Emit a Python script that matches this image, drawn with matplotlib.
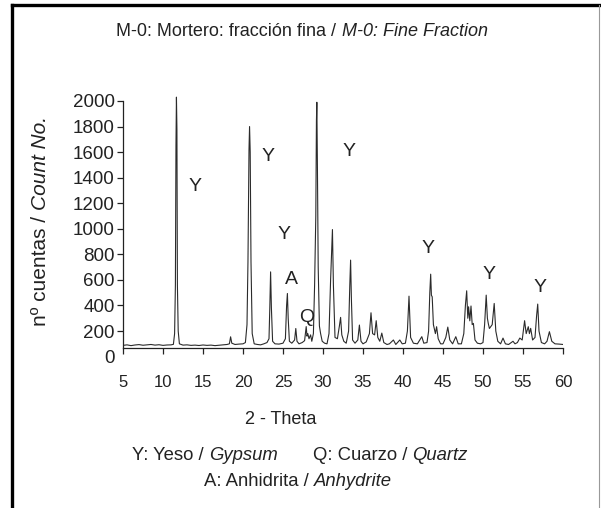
import numpy as np
import matplotlib
matplotlib.use('Agg')
import matplotlib.pyplot as plt
from matplotlib.lines import Line2D

plt.rcParams['font.family'] = ['Liberation Sans', 'DejaVu Sans']

# XRD trace (2-theta, counts)
two_theta = [5.0, 5.5, 6.0, 6.5, 7.0, 7.5, 8.0, 8.5, 9.0, 9.5, 10.0, 10.5, 11.0, 11.3,
             11.45, 11.55, 11.62, 11.68, 11.74, 11.8, 11.9, 12.05, 12.5, 13.0, 13.5,
             14.0, 14.5, 15.0, 15.5, 16.0, 16.5, 17.0, 17.5, 18.0, 18.3, 18.45, 18.6,
             19.0, 19.5, 20.0, 20.3, 20.5, 20.62, 20.75, 20.82, 20.9, 21.0, 21.15,
             21.4, 21.8, 22.2, 22.6, 23.0, 23.25, 23.35, 23.45, 23.55, 23.7, 24.0,
             24.5, 25.0, 25.3, 25.45, 25.55, 25.65, 25.8, 26.1, 26.45, 26.6, 26.75,
             27.0, 27.4, 27.7, 27.9, 28.0, 28.1, 28.25, 28.45, 28.6, 28.8, 28.95,
             29.1, 29.18, 29.23, 29.3, 29.4, 29.55, 29.7, 29.9, 30.2, 30.5, 30.75,
             30.95, 31.1, 31.18, 31.3, 31.5, 31.8, 32.05, 32.2, 32.35, 32.6, 32.9,
             33.2, 33.35, 33.45, 33.55, 33.7, 34.0, 34.35, 34.55, 34.75, 35.0, 35.4,
             35.8, 36.0, 36.2, 36.45, 36.65, 36.85, 37.1, 37.35, 37.6, 38.0, 38.3,
             38.8, 39.1, 39.6, 39.9, 40.3, 40.55, 40.75, 40.95, 41.3, 41.8, 42.2,
             42.35, 42.6, 43.0, 43.2, 43.35, 43.46, 43.55, 43.65, 43.8, 44.05, 44.2,
             44.4, 44.7, 45.0, 45.35, 45.6, 45.85, 46.2, 46.6, 46.9, 47.3, 47.6,
             47.8, 47.96, 48.1, 48.2, 48.35, 48.5, 48.65, 48.8, 49.0, 49.3, 49.7,
             50.0, 50.2, 50.4, 50.55, 50.66, 50.8, 50.96, 51.15, 51.4, 51.6, 51.85,
             52.2, 52.5, 52.8, 53.2, 53.75, 54.0, 54.3, 54.6, 54.9, 55.2, 55.4,
             55.66, 55.8, 55.96, 56.2, 56.5, 56.7, 56.84, 57.0, 57.3, 57.7, 58.0,
             58.3, 58.6, 59.0, 59.5, 60.0]
counts = [88, 92, 86, 91, 94, 89, 92, 95, 90, 93, 88, 91, 92, 96,
          180, 560, 1650, 2030, 1780, 560, 200, 100, 90, 92, 88,
          90, 87, 91, 88, 90, 86, 89, 92, 95, 100, 155, 105,
          95, 98, 100, 110, 250, 740, 1620, 1800, 1600, 740, 180,
          100, 95, 92, 100, 110, 140, 380, 663, 380, 120, 100,
          98, 105, 140, 400, 494, 300, 120, 105, 130, 220, 120,
          100, 110, 125, 235, 160, 180, 140, 170, 120, 180, 560,
          1100, 1850, 1990, 1500, 700, 240, 180, 120, 105, 100, 180,
          600, 850, 994, 560, 150, 140, 240, 307, 170, 120, 105,
          200, 560, 755, 450, 130, 105, 130, 247, 120, 100, 115,
          180, 343, 180, 170, 281, 150, 120, 184, 110, 95, 100,
          130, 95, 130, 100, 105, 200, 473, 150, 105, 100, 140,
          156, 105, 110, 200, 500, 645, 480, 468, 250, 180, 234,
          140, 100, 100, 150, 231, 130, 100, 156, 100, 100, 180,
          400, 515, 300, 390, 280, 396, 250, 260, 130, 105, 100,
          110, 250, 481, 300, 260, 220, 234, 250, 416, 200, 120,
          100, 145, 100, 95, 120, 100, 110, 145, 130, 281, 180,
          234, 180, 221, 130, 150, 320, 411, 200, 110, 100, 120,
          195, 120, 100, 98, 95]

# phase labels
label_text = ['Y', 'Y', 'Y', 'A', 'Q', 'Y', 'Y', 'Y', 'Y']
label_x = [14.0, 23.1, 25.1, 26.0, 28.0, 33.25, 43.1, 50.75, 57.1]
label_y = [1333, 1566, 957, 606, 309, 1606, 848, 645, 544]

x_ticks = [5, 10, 15, 20, 25, 30, 35, 40, 45, 50, 55, 60]
y_ticks = [0, 200, 400, 600, 800, 1000, 1200, 1400, 1600, 1800, 2000]

W, H = 601, 508
fig = plt.figure(figsize=(W / 100, H / 100), dpi=100)
ax = fig.add_axes([123 / W, 0.298, 440 / W, 0.5158])

ax.plot(two_theta, counts, color='#2b2b2b', lw=0.8)
for t, x, y in zip(label_text, label_x, label_y):
    ax.text(x, y, t, fontsize=14, ha='center', va='center', color='#222222')

ax.set_xlim(5, 60)
ax.set_ylim(0, 2050)
ax.set_xticks(x_ticks)
ax.set_yticks(y_ticks)
ax.tick_params(axis='x', labelsize=12, length=4, width=0.9, pad=15, colors='#222222')
ax.tick_params(axis='y', labelsize=13.5, length=4, width=0.9, pad=2, colors='#222222')
ax.yaxis.get_major_ticks()[0].tick1line.set_visible(False)
for s in ['top', 'right']:
    ax.spines[s].set_visible(False)
ax.spines['bottom'].set_position(('data', 65))
ax.spines['left'].set_bounds(65, 2000)
for s in ['bottom', 'left']:
    ax.spines[s].set_linewidth(0.9)
    ax.spines[s].set_color('#222222')

renderer = fig.canvas.get_renderer()


def text_width(s, size, style):
    t = fig.text(0, 0, s, fontsize=size, style=style)
    w = t.get_window_extent(renderer).width
    t.remove()
    return w


def rich_text(x_px, y_px, parts, size, rotation=0, ha='center'):
    gap = text_width('x x', size, 'normal') - text_width('xx', size, 'normal')
    widths = [text_width(s, size, st) for s, st in parts]
    total = sum(widths) + gap * (len(parts) - 1)
    pos = x_px - total / 2 if ha == 'center' else x_px
    if rotation:
        pos = y_px - total / 2
    for (s, st), w in zip(parts, widths):
        if rotation:
            fig.text(x_px / W, pos / H, s, fontsize=size, style=st, rotation=90,
                     ha='center', va='bottom', color='#222222')
        else:
            fig.text(pos / W, 1 - y_px / H, s, fontsize=size, style=st,
                     ha='left', va='center', color='#222222')
        pos += w + gap


rich_text(302, 32, [('M-0: Mortero: fracción fina /', 'normal'),
                    ('M-0: Fine Fraction', 'italic')], 13)
rich_text(41, H - 221, [('nº cuentas /', 'normal'), ('Count No.', 'italic')], 15,
          rotation=90)
fig.text(281 / W, 1 - 419 / H, '2 - Theta', fontsize=13, ha='center', va='center',
         color='#222222')
rich_text(132, 455, [('Y: Yeso /', 'normal'), ('Gypsum', 'italic')], 13.3, ha='left')
rich_text(313, 455, [('Q: Cuarzo /', 'normal'), ('Quartz', 'italic')], 13.3, ha='left')
rich_text(298, 482, [('A: Anhidrita /', 'normal'), ('Anhydrite', 'italic')], 13.3)

# frame around the figure
fig.add_artist(Line2D([12 / W, 12 / W], [0, 1 - 5 / H], color='black', lw=2.4,
                      solid_capstyle='projecting'))
fig.add_artist(Line2D([12 / W, 1], [1 - 5 / H, 1 - 5 / H], color='black', lw=2.4,
                      solid_capstyle='projecting'))
fig.add_artist(Line2D([599 / W, 599 / W], [0, 1 - 5 / H], color='#999999', lw=0.8))

fig.savefig('out.png', dpi=100)
